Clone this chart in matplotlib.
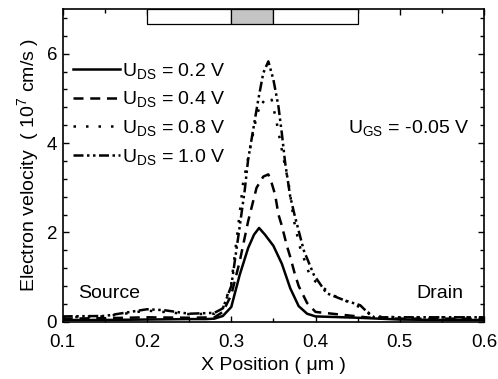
import matplotlib
matplotlib.use('Agg')
import matplotlib.pyplot as plt
from matplotlib.patches import Rectangle
from matplotlib.ticker import MultipleLocator, AutoMinorLocator
import matplotlib.transforms as mtrans

plt.rcParams['font.family'] = ['Liberation Sans', 'DejaVu Sans']
plt.rcParams['mathtext.fontset'] = 'custom'
plt.rcParams['mathtext.rm'] = 'Liberation Sans'
plt.rcParams['mathtext.it'] = 'Liberation Sans:italic'
plt.rcParams['mathtext.bf'] = 'Liberation Sans:bold'

# U_DS = 0.2 V
x_02 = [0.10, 0.15, 0.20, 0.25, 0.27, 0.28, 0.29, 0.30, 0.31, 0.32, 0.327, 0.333,
        0.34, 0.35, 0.36, 0.37, 0.38, 0.39, 0.40, 0.45, 0.50, 0.55, 0.60]
v_02 = [0.04, 0.04, 0.05, 0.06, 0.06, 0.07, 0.13, 0.33, 1.05, 1.65, 1.95, 2.10,
        1.95, 1.70, 1.30, 0.75, 0.35, 0.18, 0.12, 0.09, 0.05, 0.04, 0.04]

# U_DS = 0.4 V
x_04 = [0.10, 0.15, 0.20, 0.25, 0.28, 0.29, 0.30, 0.31, 0.32, 0.33, 0.338, 0.344,
        0.348, 0.352, 0.356, 0.36, 0.366, 0.37, 0.375, 0.38, 0.39, 0.40, 0.42,
        0.45, 0.47, 0.50, 0.55, 0.60]
v_04 = [0.07, 0.08, 0.10, 0.09, 0.10, 0.22, 0.60, 1.35, 2.25, 3.00, 3.25, 3.30,
        3.10, 2.85, 2.40, 2.15, 1.70, 1.45, 1.10, 0.80, 0.42, 0.22, 0.18,
        0.12, 0.08, 0.07, 0.07, 0.07]

# U_DS = 0.8 V
x_08 = [0.10, 0.15, 0.20, 0.22, 0.25, 0.28, 0.29, 0.30, 0.308, 0.314, 0.322, 0.330,
        0.336, 0.342, 0.348, 0.354, 0.36, 0.368, 0.374, 0.381, 0.393, 0.40, 0.42,
        0.45, 0.47, 0.50, 0.55, 0.60]
v_08 = [0.10, 0.12, 0.25, 0.22, 0.17, 0.18, 0.30, 0.85, 2.10, 3.10, 3.85, 4.60,
        4.95, 4.85, 4.97, 4.45, 3.85, 3.10, 2.30, 1.70, 1.05, 0.90, 0.60,
        0.35, 0.12, 0.10, 0.10, 0.10]

# U_DS = 1.0 V
x_10 = [0.10, 0.15, 0.20, 0.22, 0.25, 0.28, 0.29, 0.30, 0.310, 0.316, 0.320, 0.326,
        0.332, 0.338, 0.344, 0.350, 0.356, 0.360, 0.364, 0.370, 0.375, 0.386, 0.398,
        0.413, 0.433, 0.453, 0.465, 0.47, 0.50, 0.55, 0.60]
v_10 = [0.12, 0.13, 0.28, 0.26, 0.18, 0.20, 0.30, 0.80, 2.13, 2.95, 3.63, 4.30,
        4.97, 5.57, 5.83, 5.42, 4.82, 4.22, 3.55, 2.80, 2.40, 1.60, 1.05,
        0.64, 0.49, 0.37, 0.15, 0.10, 0.10, 0.10, 0.10]

labels = [r'U$_{\mathrm{DS}}$ = 0.2 V', r'U$_{\mathrm{DS}}$ = 0.4 V',
          r'U$_{\mathrm{DS}}$ = 0.8 V', r'U$_{\mathrm{DS}}$ = 1.0 V']

# device regions on top: source side, gate, drain side
regions = [(0.20, 0.30, 'white'), (0.30, 0.35, '#c4c4c4'), (0.35, 0.45, 'white')]

fig = plt.figure(figsize=(4.98, 3.79), dpi=100)
ax = fig.add_axes([0.126, 0.151, 0.846, 0.825])

lw = 1.8
ax.plot(x_02, v_02, color='k', lw=lw, linestyle='-', label=labels[0])
ax.plot(x_04, v_04, color='k', lw=lw, linestyle=(0, (4, 2.7)), label=labels[1])
ax.plot(x_08, v_08, color='k', lw=lw, linestyle=(0, (1, 4)), label=labels[2])
ax.plot(x_10, v_10, color='k', lw=lw, linestyle=(0, (4, 1.4, 1, 1.4, 1, 1.4)), label=labels[3])

trans = mtrans.blended_transform_factory(ax.transData, ax.transAxes)
for x0, x1, c in regions:
    ax.add_patch(Rectangle((x0, 0.951), x1 - x0, 0.049, transform=trans,
                           facecolor=c, edgecolor='k', lw=0.9, zorder=3))

ax.set_xlim(0.1, 0.6)
ax.set_ylim(0, 7)
ax.xaxis.set_major_locator(MultipleLocator(0.1))
ax.xaxis.set_minor_locator(MultipleLocator(0.05))
ax.yaxis.set_major_locator(MultipleLocator(2))
ax.yaxis.set_minor_locator(AutoMinorLocator(5))
ax.tick_params(which='both', direction='in', top=True, right=True, labelsize=13.5, width=1)
ax.tick_params(which='major', length=4.5)
ax.tick_params(which='minor', length=3)
ax.tick_params(axis='x', which='major', pad=9)
ax.tick_params(axis='y', which='major', pad=4)
for s in ax.spines.values():
    s.set_linewidth(1.2)

ax.set_xlabel('X Position ( μm )', fontsize=14, labelpad=4)
ax.set_ylabel('Electron velocity  ( 10$^7$ cm/s )', fontsize=14, labelpad=4)

ax.legend(loc='upper left', bbox_to_anchor=(0.024, 0.835), frameon=False, fontsize=14,
          handlelength=2.4, handletextpad=0.15, labelspacing=0.45,
          borderpad=0, borderaxespad=0)

ax.text(0.583, 4.22, r'U$_{\mathrm{GS}}$ = -0.05 V', fontsize=14, ha='right', va='baseline')
ax.text(0.1185, 0.53, 'Source', fontsize=14, ha='left', va='baseline')
ax.text(0.575, 0.53, 'Drain', fontsize=14, ha='right', va='baseline')

fig.savefig('out.png', dpi=100)
